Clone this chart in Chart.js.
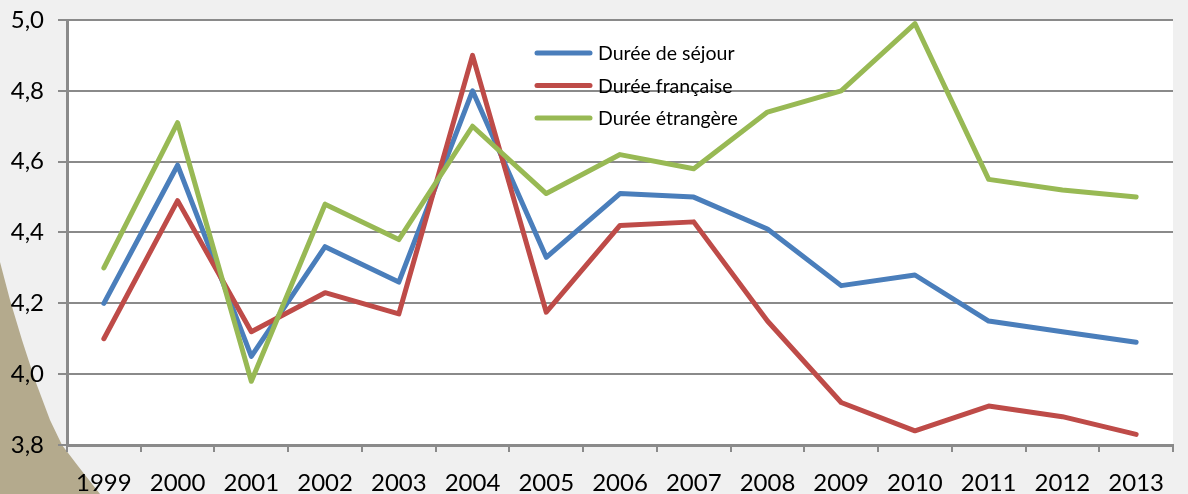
<!DOCTYPE html>
<html>
<head>
<meta charset="utf-8">
<script src="https://cdn.jsdelivr.net/npm/chart.js@4/dist/chart.umd.min.js"></script>
<style>
html,body{margin:0;padding:0;background:#f0f0f0;}
#wrap{width:1188px;height:494px;position:relative;}
</style>
</head>
<body>
<div id="wrap"><canvas id="c" width="1188" height="494"></canvas></div>
<script>
const years = ['1999','2000','2001','2002','2003','2004','2005','2006','2007','2008','2009','2010','2011','2012','2013'];
const dureeSejour = [4.20,4.59,4.05,4.36,4.26,4.80,4.33,4.51,4.50,4.41,4.25,4.28,4.15,4.12,4.09];
const dureeFrancaise = [4.10,4.49,4.12,4.23,4.17,4.90,4.175,4.42,4.43,4.15,3.92,3.84,3.91,3.88,3.83];
const dureeEtrangere = [4.30,4.71,3.98,4.48,4.38,4.70,4.51,4.62,4.58,4.74,4.80,4.99,4.55,4.52,4.50];
const seriesNames = ['Durée de séjour','Durée française','Durée étrangère'];
const seriesColors = ['#4a7ebb','#be4b48','#98b954'];
const yMin = 3.8, yMax = 5.0, yStep = 0.2;

const FONT = 'Lato, "Open Sans", sans-serif';

const bgPlugin = {
  id: 'bg',
  beforeDraw(chart) {
    const ctx = chart.ctx, a = chart.chartArea;
    ctx.save();
    ctx.fillStyle = '#f0f0f0';
    ctx.fillRect(0, 0, chart.width, chart.height);
    // decorative beige corner shape
    ctx.fillStyle = '#b4aa8d';
    ctx.beginPath();
    ctx.moveTo(0, 262);
    ctx.lineTo(10, 300);
    ctx.lineTo(22, 340);
    ctx.lineTo(35, 380);
    ctx.lineTo(50, 420);
    ctx.lineTo(62, 445);
    ctx.lineTo(78, 466);
    ctx.lineTo(100, 494);
    ctx.lineTo(0, 494);
    ctx.closePath();
    ctx.fill();
    ctx.fillStyle = '#ffffff';
    ctx.fillRect(a.left, a.top, a.right - a.left, a.bottom - a.top);
    ctx.restore();
  }
};

const legendPlugin = {
  id: 'customLegend',
  afterDraw(chart) {
    const ctx = chart.ctx;
    ctx.save();
    ctx.font = '19.5px ' + FONT;
    ctx.textBaseline = 'middle';
    chart.data.datasets.forEach((ds, i) => {
      const y = 53 + i * 32.5;
      ctx.strokeStyle = ds.borderColor;
      ctx.lineWidth = 5;
      ctx.lineCap = 'round';
      ctx.beginPath();
      ctx.moveTo(537, y);
      ctx.lineTo(590, y);
      ctx.stroke();
      ctx.fillStyle = '#000';
      ctx.fillText(ds.label, 598, y + 1);
    });
    ctx.restore();
  }
};

const mk = (i, data) => ({
  label: seriesNames[i],
  data: data,
  borderColor: seriesColors[i],
  backgroundColor: seriesColors[i],
  borderWidth: 5,
  borderCapStyle: 'round',
  borderJoinStyle: 'round',
  pointRadius: 0,
  tension: 0,
  fill: false,
  order: 2 - i
});

new Chart(document.getElementById('c'), {
  type: 'line',
  data: {
    labels: years,
    datasets: [mk(0, dureeSejour), mk(1, dureeFrancaise), mk(2, dureeEtrangere)]
  },
  options: {
    responsive: false,
    animation: false,
    devicePixelRatio: 1,
    layout: { padding: { top: 20, right: 15, left: 0, bottom: 0 } },
    plugins: { legend: { display: false }, tooltip: { enabled: false } },
    scales: {
      x: {
        offset: true,
        grid: { offset: true, display: true, drawOnChartArea: false, drawTicks: true, tickLength: 7, color: '#8a8a8a', lineWidth: 2 },
        border: { display: true, color: '#8a8a8a', width: 3 },
        ticks: { color: '#000', font: { family: FONT, size: 24 }, padding: 17, maxRotation: 0, autoSkip: false },
        afterFit(s) { s.height = 49; s.paddingLeft = 0; s.paddingRight = 0; }
      },
      y: {
        min: yMin, max: yMax,
        grid: { color: '#8a8a8a', lineWidth: 2, drawTicks: true, tickLength: 9 },
        border: { display: true, color: '#8a8a8a', width: 3 },
        ticks: {
          stepSize: yStep, color: '#000', padding: 14,
          font: { family: FONT, size: 24 },
          callback: v => v.toFixed(1).replace('.', ',')
        },
        afterFit(s) { s.width = 67; s.paddingTop = 0; s.paddingBottom = 0; }
      }
    }
  },
  plugins: [bgPlugin, legendPlugin]
});
</script>
</body>
</html>
